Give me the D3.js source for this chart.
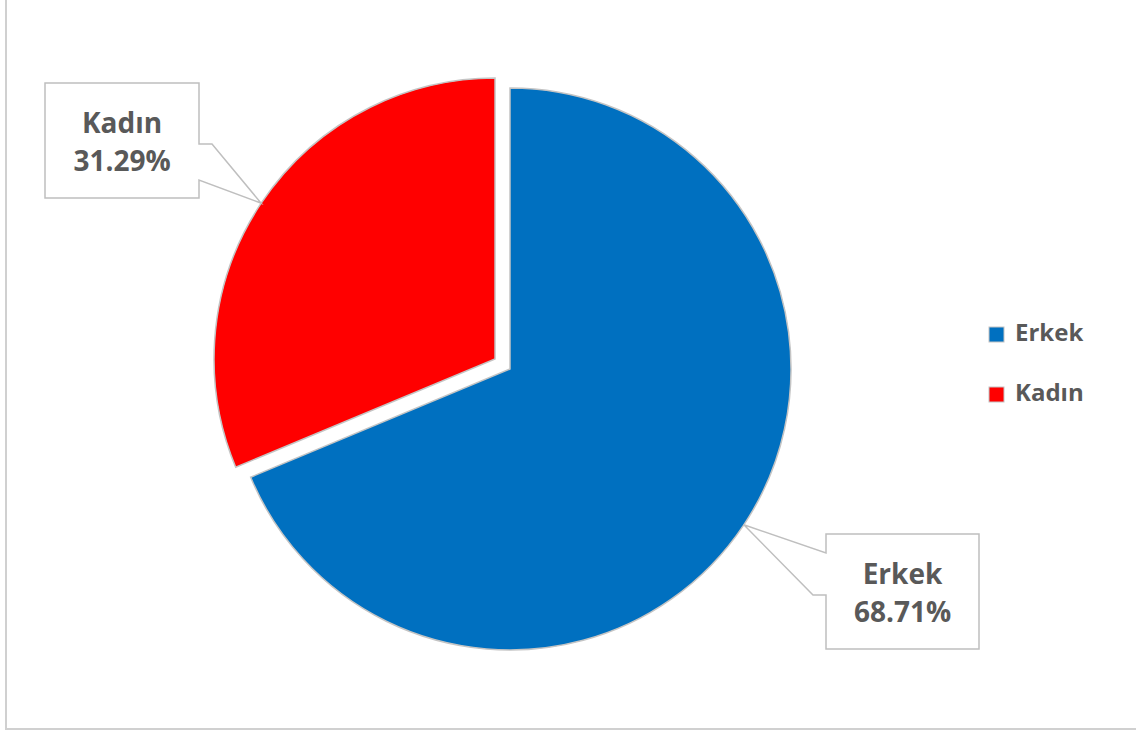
<!DOCTYPE html>
<html>
<head>
<meta charset="utf-8">
<script src="https://cdn.jsdelivr.net/npm/d3@7"></script>
<style>
  html, body { margin: 0; padding: 0; background: #ffffff; }
  svg { display: block; }
  text { font-family: "Open Sans", "Noto Sans", sans-serif; }
</style>
</head>
<body>
<svg id="chart" width="1136" height="731"></svg>
<script>
// Gender distribution
const categories = ["Erkek", "Kadın"];
const shares = [68.71, 31.29];
const colors = ["#0070C0", "#FF0000"];
const valueLabels = ["68.71%", "31.29%"];

const svg = d3.select("#chart");
const W = 1136, H = 731;

// frame: only left and bottom edges visible
svg.append("path")
  .attr("d", `M6,0 V729 H${W}`)
  .attr("fill", "none")
  .attr("stroke", "#d0d0d0")
  .attr("stroke-width", 2);

const cx = 510, cy = 369, r = 281, explode = 18;

const pie = d3.pie().sort(null).value(d => d.v).startAngle(0).endAngle(2 * Math.PI);
const arcs = pie(categories.map((c, i) => ({ c, v: shares[i], i })));
const arcGen = d3.arc().innerRadius(0).outerRadius(r);

const midA = a => (a.startAngle + a.endAngle) / 2;
// only the smaller slice is pulled out
const offset = a => {
  const d = a.data.c === "Kadın" ? explode : 0;
  const m = midA(a);
  return [Math.sin(m) * d, -Math.cos(m) * d];
};

const g = svg.append("g").attr("transform", `translate(${cx},${cy})`);
g.selectAll("path.slice")
  .data(arcs)
  .join("path")
  .attr("class", "slice")
  .attr("transform", a => `translate(${offset(a)})`)
  .attr("d", arcGen)
  .attr("fill", a => colors[a.data.i])
  .attr("stroke", "#c4c4c4")
  .attr("stroke-width", 1.5)
  .attr("stroke-linejoin", "miter");

// tip of each callout: outer edge at the slice's mid angle
const tip = a => {
  const o = offset(a), m = midA(a);
  return [cx + o[0] + Math.sin(m) * r, cy + o[1] - Math.cos(m) * r];
};

// callout boxes
const boxes = {
  "Kadın": { x0: 45, y0: 83, x1: 199, y1: 198, side: "right", w0: 144, w1: 180, ext: 13 },
  "Erkek": { x0: 826, y0: 534, x1: 979, y1: 649, side: "left", w0: 553, w1: 595, ext: 13 }
};

arcs.forEach(a => {
  const b = boxes[a.data.c];
  const t = tip(a);
  let d;
  if (b.side === "right") {
    d = `M${b.x0},${b.y0} H${b.x1} V${b.w0} L${b.x1 + b.ext},${b.w0} L${t[0]},${t[1]} L${b.x1},${b.w1} V${b.y1} H${b.x0} Z`;
  } else {
    d = `M${b.x0},${b.y0} H${b.x1} V${b.y1} H${b.x0} V${b.w1} L${b.x0 - b.ext},${b.w1} L${t[0]},${t[1]} L${b.x0},${b.w0} Z`;
  }
  svg.append("path")
    .attr("d", d)
    .attr("fill", "#ffffff")
    .attr("stroke", "#bfbfbf")
    .attr("stroke-width", 1.5)
    .attr("stroke-linejoin", "miter");

  const mx = (b.x0 + b.x1) / 2;
  const lbl = svg.append("text")
    .attr("text-anchor", "middle")
    .attr("fill", "#595959")
    .attr("font-weight", "bold")
    .attr("font-size", 28);
  lbl.append("tspan").attr("x", mx).attr("y", b.y0 + 50).text(a.data.c);
  lbl.append("tspan").attr("x", mx).attr("y", b.y0 + 88).text(valueLabels[a.data.i]);
});

// legend
const legend = svg.append("g").attr("transform", "translate(989,327)");
const items = legend.selectAll("g")
  .data(categories)
  .join("g")
  .attr("transform", (d, i) => `translate(0,${i * 60})`);
items.append("rect")
  .attr("width", 15).attr("height", 15)
  .attr("fill", (d, i) => colors[i])
  .attr("stroke", "#c4c4c4")
  .attr("stroke-width", 1);
items.append("text")
  .attr("x", 26).attr("y", 14)
  .attr("fill", "#595959")
  .attr("font-weight", "bold")
  .attr("font-size", 24)
  .text(d => d);
</script>
</body>
</html>
